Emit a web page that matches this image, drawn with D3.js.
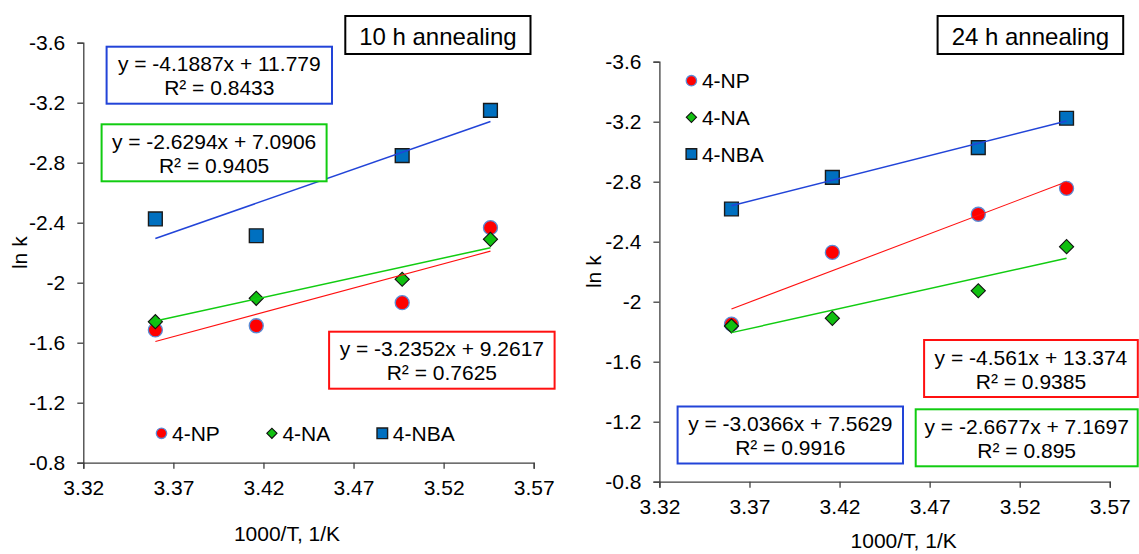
<!DOCTYPE html>
<html lang="en">
<head>
    <meta charset="UTF-8">
    <title>ln k vs 1000/T</title>
    <style>
        body { margin: 0; background: #fff; }
        svg { font-family: "Liberation Sans", Arial, sans-serif; }
        .axis .domain, .axis line { stroke: #404040; stroke-width: 1.3px; }
        .axis text { font-size: 21px; fill: #000; font-family: "Liberation Sans", Arial, sans-serif; }
    </style>
</head>
<body>
    <svg width="1139" height="554"></svg>
    <script src="https://d3js.org/d3.v7.min.js"></script>
    <script>
        // x values (1000/T) shared by both panels
        var xVals = [3.36, 3.416, 3.497, 3.546];
        var xTicks = [3.32, 3.37, 3.42, 3.47, 3.52, 3.57];
        var yTicks = [-3.6, -3.2, -2.8, -2.4, -2, -1.6, -1.2, -0.8];
        var seriesNames = ["4-NP", "4-NA", "4-NBA"];

        // 10 h annealing, ln k
        var np10  = [-1.685, -1.713, -1.867, -2.367];
        var na10  = [-1.740, -1.896, -2.023, -2.289];
        var nba10 = [-2.425, -2.313, -2.847, -3.149];
        // trend lines, order NP, NA, NBA
        var slope10 = [-3.2352, -2.6294, -4.1887];
        var icept10 = [9.2617, 7.0906, 11.779];
        var eq10 = ["y = -3.2352x + 9.2617", "y = -2.6294x + 7.0906", "y = -4.1887x + 11.779"];
        var r2_10 = ["R\u00b2 = 0.7625", "R\u00b2 = 0.9405", "R\u00b2 = 0.8433"];

        // 24 h annealing, ln k
        var np24  = [-1.850, -2.329, -2.583, -2.756];
        var na24  = [-1.838, -1.889, -2.073, -2.367];
        var nba24 = [-2.618, -2.829, -3.027, -3.223];
        var slope24 = [-4.561, -2.6677, -3.0366];
        var icept24 = [13.374, 7.1697, 7.5629];
        var eq24 = ["y = -4.561x + 13.374", "y = -2.6677x + 7.1697", "y = -3.0366x + 7.5629"];
        var r2_24 = ["R\u00b2 = 0.9385", "R\u00b2 = 0.895", "R\u00b2 = 0.9916"];

        var lineColors = ["#ff1010", "#11cc11", "#2244d8"];

        var svg = d3.select("svg"),
            width = 450.4,
            height = 420;

        function marker(g, kind, big) {
            if (kind === 0) {
                g.append("circle").attr("r", big ? 7 : 5.2)
                    .attr("fill", "#ff0000").attr("stroke", "#5b8bd5").attr("stroke-width", 1.3);
            } else if (kind === 1) {
                g.append("path").attr("d", d3.symbol(d3.symbolSquare, big ? 100 : 52)())
                    .attr("transform", "rotate(45)")
                    .attr("fill", "#11c011").attr("stroke", "#111").attr("stroke-width", 1.1);
            } else {
                g.append("path").attr("d", d3.symbol(d3.symbolSquare, big ? 190 : 112)())
                    .attr("fill", "#0070c0").attr("stroke", "#1a1a1a").attr("stroke-width", 1.4);
            }
        }

        function drawPanel(p) {
            var g = svg.append("g").attr("transform", "translate(" + p.left + "," + p.top + ")");

            var x = d3.scaleLinear().domain([3.32, 3.57]).range([0, width]);
            var y = d3.scaleLinear().domain([-3.6, -0.8]).range([0, height]);

            g.append("g")
                .attr("class", "axis")
                .attr("transform", "translate(0," + height + ")")
                .call(d3.axisBottom(x).tickValues(xTicks).tickSize(6).tickPadding(11).tickFormat(d3.format(".2f")));

            g.append("g")
                .attr("class", "axis")
                .call(d3.axisLeft(y).tickValues(yTicks).tickSize(6).tickPadding(12).tickFormat(function(d){ return String(d); }));

            // data points, one group per series
            p.series.forEach(function(vals, k) {
                g.append("g").selectAll("g")
                    .data(vals)
                    .enter().append("g")
                    .attr("transform", function(d, i){ return "translate(" + x(xVals[i]) + "," + y(d) + ")"; })
                    .each(function(){ marker(d3.select(this), k, true); });
            });

            // linear trend lines from the fitted equations
            p.slope.forEach(function(m, k) {
                var x0 = xVals[0], x1 = xVals[xVals.length - 1];
                g.append("line")
                    .attr("x1", x(x0)).attr("y1", y(m * x0 + p.icept[k]))
                    .attr("x2", x(x1)).attr("y2", y(m * x1 + p.icept[k]))
                    .attr("stroke", lineColors[k])
                    .attr("stroke-width", k === 0 ? 1.1 : 1.5);
            });

            // equation boxes
            p.boxes.forEach(function(b, k) {
                var bg = svg.append("g").attr("transform", "translate(" + b[0] + "," + b[1] + ")");
                bg.append("rect").attr("width", b[2]).attr("height", 57)
                    .attr("fill", "#fff").attr("stroke", lineColors[k]).attr("stroke-width", 2);
                bg.append("text").attr("x", b[2] / 2).attr("y", 24.5).attr("text-anchor", "middle")
                    .attr("font-size", 21).text(p.eq[k]);
                bg.append("text").attr("x", b[2] / 2).attr("y", 48.5).attr("text-anchor", "middle")
                    .attr("font-size", 21).text(p.r2[k]);
            });

            // title box
            var tg = svg.append("g").attr("transform", "translate(" + p.titleBox[0] + ",16)");
            tg.append("rect").attr("width", p.titleBox[1]).attr("height", 38)
                .attr("fill", "#fff").attr("stroke", "#000").attr("stroke-width", 2);
            tg.append("text").attr("x", p.titleBox[1] / 2).attr("y", 28.5).attr("text-anchor", "middle")
                .attr("font-size", 24).text(p.title);

            // axis titles
            svg.append("text")
                .attr("x", p.xTitle[0]).attr("y", p.xTitle[1])
                .attr("text-anchor", "middle").attr("font-size", 21)
                .text("1000/T, 1/K");
            svg.append("text")
                .attr("transform", "translate(" + p.yTitle[0] + "," + (p.top + height / 2) + ") rotate(-90)")
                .attr("text-anchor", "middle").attr("font-size", 21)
                .text("ln k");

            // legend
            var lg = svg.append("g").selectAll("g")
                .data(seriesNames)
                .enter().append("g")
                .attr("transform", function(d, i){ return "translate(" + p.legend(i) + ")"; });
            lg.each(function(d, i){ marker(d3.select(this), i, false); });
            lg.append("text")
                .attr("x", 10.5)
                .attr("dy", "0.36em")
                .attr("font-size", 21)
                .text(function(d){ return d; });
        }

        drawPanel({
            left: 83.3, top: 42.7,
            series: [np10, na10, nba10],
            slope: slope10, icept: icept10, eq: eq10, r2: r2_10,
            boxes: [[329.1, 331.7, 225.5], [101.6, 124.3, 225], [106.6, 46.7, 225.4]],
            title: "10 h annealing", titleBox: [345.3, 185.2],
            xTitle: [287, 540.7], yTitle: [27, 0],
            legend: function(i){ return [161.5 + i * 110.4, 433.3]; }
        });

        drawPanel({
            left: 659.4, top: 61.7,
            series: [np24, na24, nba24],
            slope: slope24, icept: icept24, eq: eq24, r2: r2_24,
            boxes: [[924.1, 340, 213.7], [915.7, 409.3, 222], [677.6, 406.5, 225.4]],
            title: "24 h annealing", titleBox: [937.6, 185.6],
            xTitle: [903.7, 548], yTitle: [601, 0],
            legend: function(i){ return [691.4, 80.7 + i * 36.65]; }
        });
    </script>
</body>
</html>
